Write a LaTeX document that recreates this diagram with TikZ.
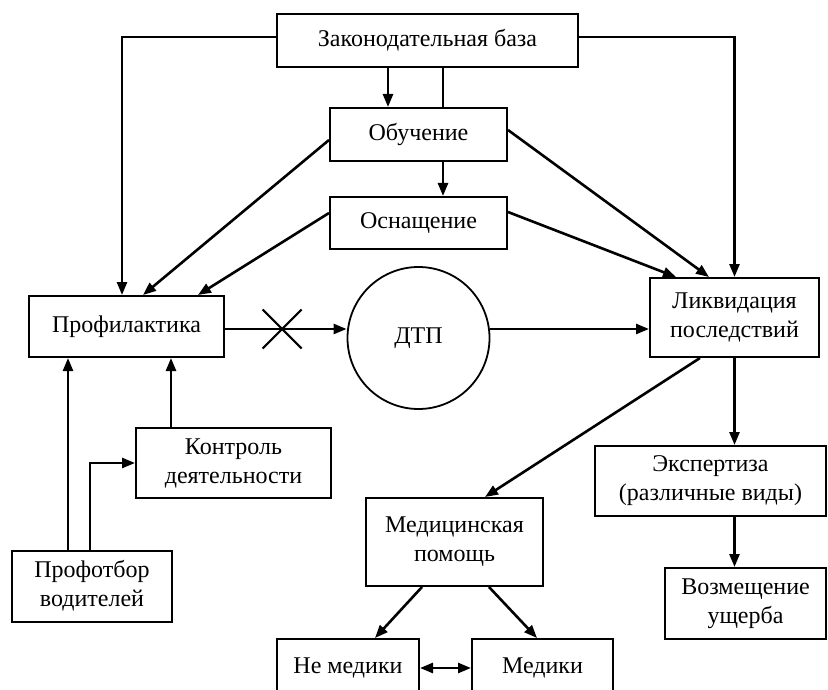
\documentclass[tikz,border=0pt]{standalone}
\usepackage{fontspec}
\setmainfont{Liberation Serif}
\usetikzlibrary{arrows.meta,shapes.misc}

\begin{document}
\begin{tikzpicture}[
		x=1pt, y=-1pt,
		every node/.style={font=\fontsize{24}{29}\selectfont, align=center},
		block/.style={draw, line width=2pt, inner sep=0pt},
		link/.style={line width=2.6pt, -{Triangle[length=13pt,width=10pt]}},
		plain/.style={line width=2.6pt}
		]
		
		\path[use as bounding box, clip] (0,0) rectangle (828,690);
		
		% boxes
		\node[block, minimum width=301pt, minimum height=53pt] (zakon) at (427.5,40.5) {Законодательная база};
		\node[block, minimum width=177pt, minimum height=53pt] (obuch) at (418.5,134.5) {Обучение};
		\node[block, minimum width=177pt, minimum height=52pt] (osnash) at (418.5,223) {Оснащение};
		\node[block, minimum width=195pt, minimum height=61pt] (profil) at (126.5,326.5) {Профилактика};
		\node[draw, circle, line width=1.8pt, minimum size=142pt, inner sep=0pt] (dtp) at (418.5,338) {ДТП};
		\node[block, minimum width=169pt, minimum height=79pt] (likvid) at (734.5,317.5) {Ликвидация\\последствий};
		\node[block, minimum width=195pt, minimum height=70pt] (kontrol) at (233.5,463) {Контроль\\деятельности};
		\node[block, minimum width=160pt, minimum height=71pt] (proftbor) at (92,586) {Профотбор\\водителей};
		\node[block, minimum width=177pt, minimum height=88pt] (medpom) at (454.5,542) {Медицинская\\помощь};
		\node[block, minimum width=231pt, minimum height=70pt] (ekspert) at (710.5,481) {Экспертиза\\(различные виды)};
		\node[block, minimum width=161pt, minimum height=71pt] (vozm) at (745.5,603.5) {Возмещение\\ущерба};
		\node[block, minimum width=142pt, minimum height=58pt] (nemed) at (348,668) {Не медики};
		\node[block, minimum width=141pt, minimum height=58pt] (medik) at (542.5,668) {Медики};
		
		% helper points
		\coordinate (z1) at ([xshift=-30.5pt]obuch.north);
		\coordinate (z2) at ([xshift=24.5pt]obuch.north);
		\coordinate (pe) at ([yshift=-2.5pt]profil.east);
		\coordinate (k1) at ([xshift=-62.5pt]kontrol.north);
		\coordinate (p1) at ([xshift=-24pt]proftbor.north);
		
		% from the legal base
		\draw[link] ([yshift=3.5pt]zakon.west) -| ([xshift=-4.5pt]profil.north);
		\draw[link] ([yshift=3.5pt]zakon.east) -| (likvid.north);
		\draw[link] (z1 |- zakon.south) -- (z1);
		\draw[plain] (z2 |- zakon.south) -- (z2);
		\draw[link] (z2 |- obuch.south) -- (z2 |- osnash.north);
		
		% training and equipment
		\draw[link] ([yshift=-5.5pt]obuch.west) -- ([xshift=16.5pt]profil.north);
		\draw[link] ([yshift=10pt]osnash.west) -- ([xshift=71.5pt]profil.north);
		\draw[link] ([yshift=4.5pt]obuch.east) -- ([xshift=-25.5pt]likvid.north);
		\draw[link] ([yshift=11pt]osnash.east) -- ([xshift=-58.5pt]likvid.north);
		
		% prevention, accident, consequences
		\draw[link] (pe) -- (pe -| dtp.west)
			node[pos=0.47, draw, cross out, line width=2pt, minimum size=37pt, inner sep=0pt] (stop) {};
		\draw[link] (pe -| dtp.east) -- (pe -| likvid.west);
		\draw[link] ([xshift=-34.5pt]likvid.south) -- ([xshift=30.5pt]medpom.north);
		\draw[link] (likvid.south) -- (likvid.south |- ekspert.north);
		\draw[link] (likvid.south |- ekspert.south) -- (likvid.south |- vozm.north);
		
		% control and selection
		\draw[link] (k1) -- (k1 |- profil.south);
		\draw[link] (p1) -- (p1 |- profil.south);
		\draw[link] ([xshift=-2pt]proftbor.north) |- (kontrol.west);
		
		% medical help
		\draw[link] ([xshift=-32.5pt]medpom.south) -- ([xshift=27pt]nemed.north);
		\draw[link] ([xshift=34.5pt]medpom.south) -- ([xshift=-5.5pt]medik.north);
		\draw[link, {Triangle[length=13pt,width=10pt]}-{Triangle[length=13pt,width=10pt]}] (nemed.east) -- (medik.west);
		
	\end{tikzpicture}
\end{document}
